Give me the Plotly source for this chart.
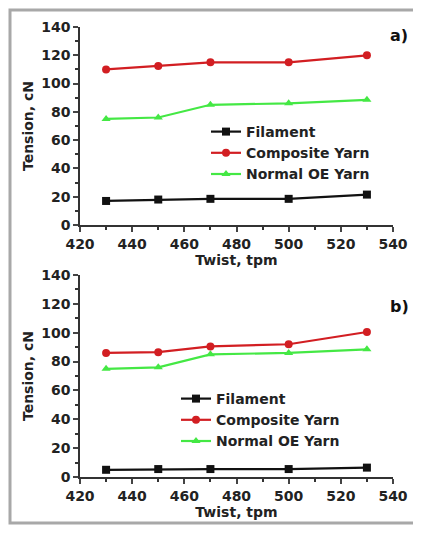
import plotly.graph_objects as go

# page body has an 8px default margin; figure is sized to fit the window
OFF = 8
W, H = 421 - OFF, 533 - 2 * OFF

twist = [430, 450, 470, 500, 530]
series_names = ["Filament", "Composite Yarn", "Normal OE Yarn"]

# Panel a)
a_filament = [17, 18, 18.5, 18.5, 21.5]
a_composite = [110, 112.5, 115, 115, 120]
a_normal = [75, 76, 85, 86, 88.5]

# Panel b)
b_filament = [5, 5.5, 5.5, 5.5, 6.5]
b_composite = [86, 86.5, 90.5, 92, 100.5]
b_normal = [75, 76, 85, 86, 88.5]

colors = ["#111111", "#d21e22", "#44e844"]
symbols = ["square", "circle", "triangle-up"]

x_ticks = [420, 440, 460, 480, 500, 520, 540]
y_ticks = [0, 20, 40, 60, 80, 100, 120, 140]

def px_x(p):
    return (p - OFF) / W

def px_y(p):
    return 1 - (p - OFF) / H

fig = go.Figure()

panels = [
    ("x", "y", "legend", [a_filament, a_composite, a_normal]),
    ("x2", "y2", "legend2", [b_filament, b_composite, b_normal]),
]
for xa, ya, lg, data in panels:
    for name, vals, c, s in zip(series_names, data, colors, symbols):
        fig.add_trace(go.Scatter(
            x=twist, y=vals, name=name, mode="lines+markers",
            line=dict(color=c, width=2.2),
            marker=dict(color=c, symbol=s, size=8),
            xaxis=xa, yaxis=ya, legend=lg,
        ))

FONT = "DejaVu Sans, sans-serif"
tickfont = dict(family=FONT, size=14, color="#222222", weight="bold")
titlefont = dict(family=FONT, size=14, color="#222222", weight="bold")

xaxis_common = dict(
    range=[420, 540], tickvals=x_ticks, ticks="outside", ticklen=5, tickwidth=1.5,
    showline=True, linecolor="#333333", linewidth=1.5, showgrid=False, zeroline=False,
    tickfont=tickfont, minor=dict(ticks="outside", ticklen=3, dtick=10, tickcolor="#333333"),
    title=dict(text="Twist, tpm", font=titlefont, standoff=4),
    domain=[px_x(80), px_x(393)], automargin=False,
)
yaxis_common = dict(
    range=[0, 140], tickvals=y_ticks, ticks="outside", ticklen=5, tickwidth=1.5,
    showline=True, linecolor="#333333", linewidth=1.5, showgrid=False, zeroline=False,
    tickfont=tickfont, minor=dict(ticks="outside", ticklen=3, dtick=10, tickcolor="#333333"),
    title=dict(text="Tension, cN", font=titlefont, standoff=4), automargin=False,
)

legend_common = dict(
    font=dict(family=FONT, size=14, color="#222222", weight="bold"),
    bgcolor="rgba(0,0,0,0)", tracegroupgap=0, itemwidth=30,
    xanchor="left", yanchor="top",
)

fig.update_layout(
    width=W, height=H, margin=dict(l=0, r=0, t=0, b=0),
    paper_bgcolor="white", plot_bgcolor="white",
    xaxis=dict(xaxis_common, anchor="y"),
    yaxis=dict(yaxis_common, anchor="x", domain=[px_y(225), px_y(27)]),
    xaxis2=dict(xaxis_common, anchor="y2"),
    yaxis2=dict(yaxis_common, anchor="x2", domain=[px_y(477), px_y(275)]),
    legend=dict(legend_common, x=px_x(206), y=px_y(116)),
    legend2=dict(legend_common, x=px_x(176), y=px_y(383)),
    showlegend=True,
)

fig.add_annotation(text="a)", x=px_x(399), y=px_y(36), xref="paper", yref="paper",
                   xanchor="center", yanchor="middle",
                   showarrow=False, font=dict(family=FONT, size=16, weight="bold", color="#111111"))
fig.add_annotation(text="b)", x=px_x(399), y=px_y(306), xref="paper", yref="paper",
                   xanchor="center", yanchor="middle",
                   showarrow=False, font=dict(family=FONT, size=16, weight="bold", color="#111111"))

fig.add_shape(type="rect", xref="paper", yref="paper",
              x0=px_x(10), x1=px_x(418), y0=px_y(523), y1=px_y(10),
              line=dict(color="#a8a8a8", width=3))

fig.write_html("out.html")
